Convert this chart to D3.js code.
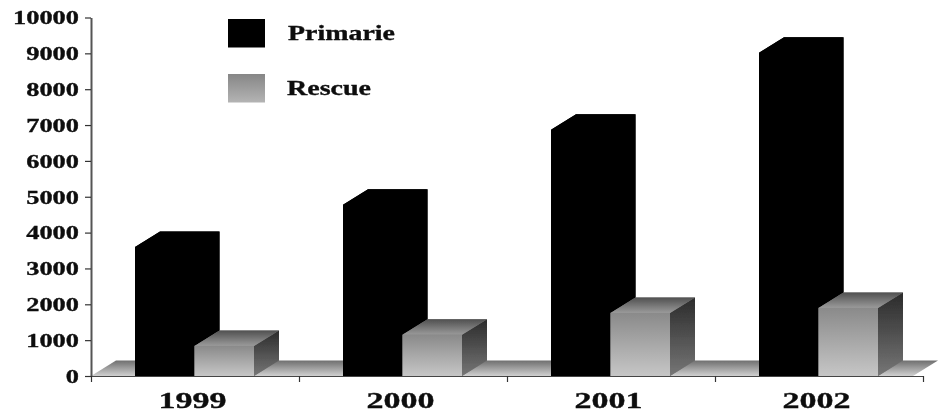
<!DOCTYPE html>
<html>
<head>
<meta charset="utf-8">
<script src="https://cdn.jsdelivr.net/npm/d3@7"></script>
<style>
	html, body { margin: 0; padding: 0; background: #fff; overflow: hidden; }
	svg { display: block; }
	text { font-family: "Liberation Serif", serif; font-weight: bold; fill: #0a0a0a; stroke: #0a0a0a; stroke-width: 0.3; }
</style>
</head>
<body>
<div id="chart"></div>
<script>
const YEARS = ["1999", "2000", "2001", "2002"];
const SERIES = ["Primarie", "Rescue"];
const primarie = [3600, 4780, 6870, 9020];
const rescue = [840, 1150, 1760, 1900];
const yTicks = [0, 1000, 2000, 3000, 4000, 5000, 6000, 7000, 8000, 9000, 10000];
const legendWidths = [107, 84];

const w = 941;
const h = 413;
const left = 91;
const right = 923;
const bottom = 376;
const top_ = 17.5;
// oblique offset of the 3d boxes
const dx = 25;
const dy = 15.5;

const svg = d3.select("#chart").append("svg").attr("width", w).attr("height", h);
const defs = svg.append("defs");

function vGrad(id, c1, c2) {
	const g = defs.append("linearGradient").attr("id", id)
		.attr("x1", 0).attr("x2", 0).attr("y1", 0).attr("y2", 1);
	g.append("stop").attr("offset", "0%").attr("stop-color", c1);
	g.append("stop").attr("offset", "100%").attr("stop-color", c2);
}
vGrad("front", "#8a8a8a", "#c6c6c6");
vGrad("topFace", "#505050", "#9a9a9a");
vGrad("side", "#2b2b2b", "#767676");
vGrad("floor", "#6e6e6e", "#d0d0d0");
vGrad("legendRescue", "#868686", "#b4b4b4");

defs.append("filter").attr("id", "soft").append("feGaussianBlur").attr("stdDeviation", 0.5);

const yScale = d3.scaleLinear().domain([0, 10000]).range([bottom, top_]);
const xScale = d3.scaleBand().domain(YEARS).range([left, right]);
const xInner = d3.scaleBand().domain(SERIES).range([44, 163]).paddingInner(0);
const barW = xInner.bandwidth();
const edgeScale = d3.scaleLinear().domain([0, YEARS.length]).range([left, right]);

const chart = svg.append("g").attr("filter", "url(#soft)");

// floor
const floorEnd = 913;
chart.append("path")
	.attr("d", `M${left},${bottom}L${left + dx},${bottom - dy}L${floorEnd + dx},${bottom - dy}L${floorEnd},${bottom}Z`)
	.attr("fill", "url(#floor)");

function drawBox(values, name, baseFill, frontFill, topFill, sideFill) {
	const g = chart.append("g").attr("class", "series-" + name);
	YEARS.forEach((yr, i) => {
		const x0 = xScale(yr) + xInner(name);
		const x1 = x0 + barW;
		const y0 = yScale(values[i]);
		// silhouette first, so no seams show between the faces
		g.append("path")
			.attr("d", `M${x0},${y0}L${x0 + dx},${y0 - dy}L${x1 + dx},${y0 - dy}L${x1 + dx},${bottom - dy}L${x1},${bottom}L${x0},${bottom}Z`)
			.attr("fill", baseFill);
		g.append("path")
			.attr("d", `M${x1},${y0}L${x1 + dx},${y0 - dy}L${x1 + dx},${bottom - dy}L${x1},${bottom}Z`)
			.attr("fill", sideFill);
		g.append("path")
			.attr("d", `M${x0},${y0}L${x0 + dx},${y0 - dy}L${x1 + dx},${y0 - dy}L${x1},${y0}Z`)
			.attr("fill", topFill);
		g.append("rect")
			.attr("x", x0).attr("y", y0)
			.attr("width", barW).attr("height", bottom - y0)
			.attr("fill", frontFill);
	});
}
drawBox(primarie, "Primarie", "#000", "#000", "#000", "#000");
drawBox(rescue, "Rescue", "#7c7c7c", "url(#front)", "url(#topFace)", "url(#side)");

// axes
const yAxis = chart.append("g")
	.attr("transform", `translate(${left}, 0)`)
	.call(d3.axisLeft(yScale).tickValues(yTicks).tickFormat(d3.format("d")).tickSize(6).tickSizeOuter(0).tickPadding(6));
yAxis.select(".domain").attr("stroke", "#555").attr("stroke-width", 2);
yAxis.selectAll(".tick line").attr("stroke", "#333").attr("stroke-width", 1.2);
// the original labels are stretched sideways, about 13px per digit
yAxis.selectAll("text")
	.attr("font-size", 19.5)
	.attr("textLength", (d) => String(d).length * 13.2)
	.attr("lengthAdjust", "spacingAndGlyphs");

const xTicks = chart.append("g")
	.attr("transform", `translate(0, ${bottom})`)
	.call(d3.axisBottom(edgeScale).ticks(YEARS.length).tickFormat("").tickSize(6).tickSizeOuter(0));
xTicks.select(".domain").attr("stroke", "#444").attr("stroke-width", 1.2);
xTicks.selectAll(".tick line").attr("stroke", "#333").attr("stroke-width", 1.2);

const xLabels = chart.append("g")
	.attr("transform", `translate(-2.5, ${bottom})`)
	.call(d3.axisBottom(xScale).tickSize(0).tickPadding(15.6));
xLabels.select(".domain").remove();
xLabels.selectAll("text")
	.attr("font-size", 23)
	.attr("textLength", 68)
	.attr("lengthAdjust", "spacingAndGlyphs");

// legend
const legend = chart.append("g");
SERIES.forEach((name, i) => {
	legend.append("rect")
		.attr("x", 228).attr("y", 19 + i * 55)
		.attr("width", 37).attr("height", 28.5)
		.attr("fill", i === 0 ? "#000" : "url(#legendRescue)");
	legend.append("text")
		.attr("x", 288 - i).attr("y", 40 + i * 55)
		.attr("font-size", 20)
		.attr("textLength", legendWidths[i])
		.attr("lengthAdjust", "spacingAndGlyphs")
		.text(name);
});
</script>
</body>
</html>
